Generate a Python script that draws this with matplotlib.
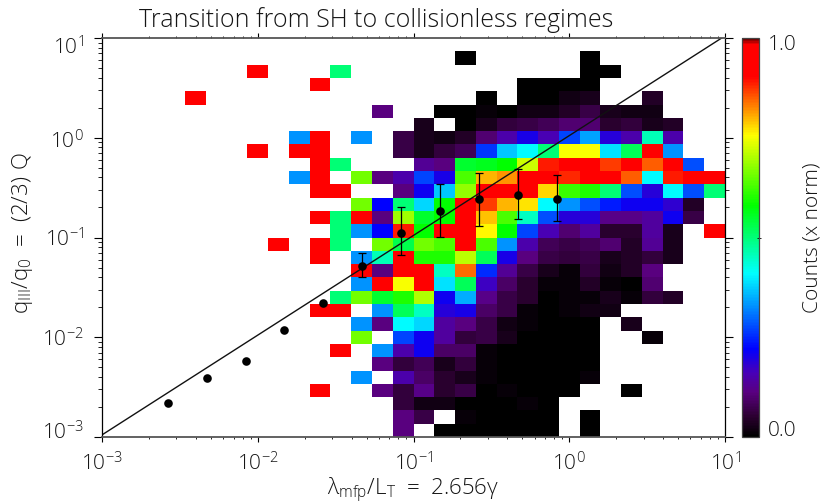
import numpy as np
import matplotlib
matplotlib.use("Agg")
import matplotlib.pyplot as plt
from matplotlib.colors import LinearSegmentedColormap
from matplotlib.ticker import LogLocator, NullFormatter, FixedLocator
from matplotlib.transforms import ScaledTranslation

plt.rcParams['font.family'] = ['Open Sans', 'Liberation Sans', 'DejaVu Sans']
plt.rcParams['font.weight'] = 'light'
plt.rcParams['mathtext.default'] = 'regular'

_ = np.nan

# normalised counts, top row of the picture first, left to right
row_00 = [_]*30
row_01 = [_]*17+[0.0]+[_]*5+[0.0]+[_]*6
row_02 = [_]*7+[.92]+[_]*3+[.50]+[_]*11+[0,0]+[_]*5
row_03 = [_]*10+[.92]+[_]*9+[0,0,0,0]+[_]*6
row_04 = [_]*4+[.92]+[_]*13+[0]+[_]+[0,0,.02,.03]+[_]*2+[.04]+[_]*3
row_05 = [_]*13+[.11]+[_]*2+[0,0,.01,0,.02,.02,.04,.07,.03,.02,.02]+[_]*3
row_06 = [_]*15+[.03,_,0,.03,.06,.07,.08,.10,.10,.05,.06,.03,.04]+[_]*2
row_07 = [_]*9+[.33,.92,_,.33,_,.07,.03,.02,.04,.10,.15,.20,.16,.27,.34,.19,.15,.46,.15]+[_]*2
row_08 = [_]*7+[.92,_,.92,.92]+[_]*3+[.07,.03,.06,.08,.26,.37,.41,.50,.75,.75,.39,.52,.92,.33]+[_]*2
row_09 = [_]*10+[.92,.50]+[_]*3+[.13,.11,.55,.56,.58,.72,.89,.92,.92,.87,.92,.85,.92,.28]+[_]
row_10 = [_]*9+[.33,.92,_,.66,.11,.15,.27,.20,.63,.80,.82,.92,.92,.88,.92,.92,.85,.41,.89,.92,.92]
row_11 = [_]*10+[.92,.92,_,_,.11,.21,.37,.68,.92,.92,.92,.78,.62,.60,.50,.28,.19,.41,.28,.50]
row_12 = [_]*12+[.66,.22,.50,.38,.58,.92,.87,.80,.77,.41,.33,.28,.24,.21,.21,.18,.04,_]
row_13 = [_]*10+[.92,.50,.92,.11,.69,.55,.58,.92,.79,.63,.45,.28,.19,.19,.12,.12,.14,.21,.07,_]
row_14 = [_]*11+[.50,.33,.22,.89,.58,.92,.91,.76,.58,.27,.16,.10,.14,.05,.05,.14,.03,_,.92]
row_15 = [_]*8+[.92,_,.92,.50,_,.66,.53,.66,.63,.92,.63,.33,.15,.08,.07,.08,.10,.04,.13,.03,_,_]
row_16 = [_]*10+[.92,_,.33,.46,.92,.60,.60,.71,.52,.20,.11,.07,.06,.07,.03,.04,.06,.03,_,_]
row_17 = [_]*12+[.92,.11,.92,.92,.45,.84,.25,.13,.07,.03,.01,.06,.02,.04,.11,_,_,_]
row_18 = [_]*12+[.33,.92,.75,.92,.39,.52,.17,.09,.05,.01,.01,.04,.01,0,.10,_,_,_]
row_19 = [_]*11+[.50,.66,.55,.60,.70,.21,.35,.12,.07,.05,0,.01,.01,.03,.01,.06,.04,_,_]
row_20 = [_]*10+[.92,.92,_,.33,.52,.45,.19,.20,.09,.07,.01,0,.01,.02,.02]+[_]*5
row_21 = [_]*12+[.33,.11,.41,.38,.14,.11,.07,.02,.01,0,0,0,_,.03]+[_]*4
row_22 = [_]*12+[.66,_,.27,.21,.14,.06,.07,.03,0,0,0,0,_,_,.01]+[_]*3
row_23 = [_]*11+[.92,_,.33,.15,.21,.09,.09,.01,0,0,0,0,0]+[_]*6
row_24 = [_]*13+[.11,.06,.08,.03,.06,.01,0,0,0,0,0]+[_]*6
row_25 = [_]*12+[.33,_,.15,.09,.05,.03,.01,0,0,0,0,.01]+[_]*6
row_26 = [_]*10+[.92,_,_,.11,.06,.12,.05,.07,0,.01,0,0,0]+[_,_,0]+[_]*4
row_27 = [_]*14+[.06,.02,.02,0,0,0,.01,0]+[_]*8
row_28 = [_]*14+[.11,.07,_,.01,0,0,0,0,_,0]+[_]*6
row_29 = [_]*14+[.11,_,0,0,0,0,0,0,_,0]+[_]*6

counts = np.array([row_00, row_01, row_02, row_03, row_04, row_05, row_06, row_07, row_08, row_09,
                   row_10, row_11, row_12, row_13, row_14, row_15, row_16, row_17, row_18, row_19,
                   row_20, row_21, row_22, row_23, row_24, row_25, row_26, row_27, row_28, row_29], dtype=float)

x_edges = np.logspace(-3, 1, 31)
y_edges = np.logspace(1, -3, 31)

# binned means and their spread
x_mean = [0.00264, 0.00470, 0.00835, 0.0148, 0.0264, 0.0470, 0.0835, 0.148, 0.264, 0.470, 0.835]
y_mean = [0.00218, 0.00388, 0.00582, 0.01175, 0.0222, 0.0518, 0.110, 0.183, 0.2416, 0.267, 0.2416]
x_err = [0.0470, 0.0835, 0.148, 0.264, 0.470, 0.835]
y_err_mid = [0.0518, 0.110, 0.183, 0.2416, 0.267, 0.2416]
y_err_low = [0.0399, 0.0663, 0.1005, 0.131, 0.152, 0.145]
y_err_high = [0.0704, 0.2037, 0.341, 0.4466, 0.483, 0.4266]

x_line = [1e-3, 10]
y_line = [1.05e-3, 10.5]

x_ticks = [1e-3, 1e-2, 1e-1, 1e0, 1e1]
tick_labels = ['$10^{-3}$', '$10^{-2}$', '$10^{-1}$', '$10^{0}$', '$10^{1}$']
# y labels are nudged in pixels the way the original did at the ends of the axis
y_label_nudge = [7, 0, 0, -1.5, -7]

cmap = LinearSegmentedColormap.from_list('idl_rainbow', [
    (0.0, (0, 0, 0)), (0.05, (0.17, 0, 0.19)), (0.11, (0.35, 0, 0.5)), (0.16, (0.28, 0, 0.72)),
    (0.22, (0, 0, 1)), (0.41, (0, 1, 1)), (0.58, (0, 1, 0)), (0.757, (1, 1, 0)),
    (0.905, (1, 0, 0)), (0.985, (1, 0, 0)), (1.0, (0.45, 0, 0))])
cmap.set_bad('white')

text_col = '#151515'

fig = plt.figure(figsize=(8.24, 5.04), dpi=100)
ax = fig.add_axes([102/824, 67/504, 623/824, 399/504])
mesh = ax.pcolormesh(x_edges, y_edges, np.ma.masked_invalid(counts), cmap=cmap, vmin=0, vmax=1,
                     edgecolors='none', antialiased=False)
ax.plot(x_line, y_line, color='#111111', lw=1.0)
ax.errorbar(x_err, y_err_mid,
            yerr=[np.array(y_err_mid)-np.array(y_err_low), np.array(y_err_high)-np.array(y_err_mid)],
            fmt='none', ecolor='black', elinewidth=0.9, capsize=3, capthick=0.9)
ax.plot(x_mean, y_mean, 'o', color='black', ms=6.2, mew=0)

ax.set_xscale('log')
ax.set_yscale('log')
ax.set_xlim(1e-3, 10)
ax.set_ylim(1e-3, 10)

for axis in (ax.xaxis, ax.yaxis):
    axis.set_major_locator(FixedLocator(x_ticks))
    axis.set_minor_locator(LogLocator(base=10, subs=range(2, 10), numticks=20))
    axis.set_minor_formatter(NullFormatter())
ax.set_xticklabels(tick_labels)
ax.set_yticklabels(tick_labels)
ax.tick_params(axis='x', which='major', top=True, direction='out', length=3.6, width=0.8, labelsize=15,
               labelcolor=text_col, pad=7.5)
ax.tick_params(axis='x', which='minor', top=True, direction='out', length=1.6, width=0.6)
ax.tick_params(axis='y', which='major', right=True, direction='out', length=6, width=0.8, labelsize=15,
               labelcolor=text_col, pad=7)
ax.tick_params(axis='y', which='minor', right=True, direction='out', length=3, width=0.6)
for lab, nudge in zip(ax.get_yticklabels(), y_label_nudge):
    lab.set_transform(lab.get_transform() + ScaledTranslation(0, nudge/100, fig.dpi_scale_trans))
for side in ('top', 'bottom'):
    ax.spines[side].set_color('#555555')
    ax.spines[side].set_linewidth(1.3)
for side in ('left', 'right'):
    ax.spines[side].set_linewidth(0.9)

fig.text(376/824, 1-20/504, 'Transition from SH to collisionless regimes', ha='center', va='center',
         fontsize=18, color=text_col)
fig.text(413/824, 1-490/504, r'$\lambda_{mfp}/L_T\ =\ 2.656\gamma$', ha='center', va='center',
         fontsize=16, color=text_col)
fig.text(23/824, 1-233/504, r'$q_{III}/q_0\ =\ (2/3)\ Q$', ha='center', va='center', rotation=90,
         fontsize=16, color=text_col)

cax = fig.add_axes([742/824, 67/504, 17/824, 399/504])
cbar = fig.colorbar(mesh, cax=cax)
cbar.set_ticks([0.5])
cbar.set_ticklabels([''])
cax.tick_params(direction='inout', length=3, width=0.6)
cbar.outline.set_edgecolor('#444444')
cbar.outline.set_linewidth(0.9)
fig.text(768/824, 1-45/504, '1.0', ha='left', va='center', fontsize=15, color=text_col)
fig.text(768/824, 1-431/504, '0.0', ha='left', va='center', fontsize=15, color=text_col)
fig.text(812/824, 1-238/504, 'Counts (x norm)', ha='center', va='center', rotation=90, fontsize=15,
         color=text_col)

fig.savefig('out.png', dpi=100)
